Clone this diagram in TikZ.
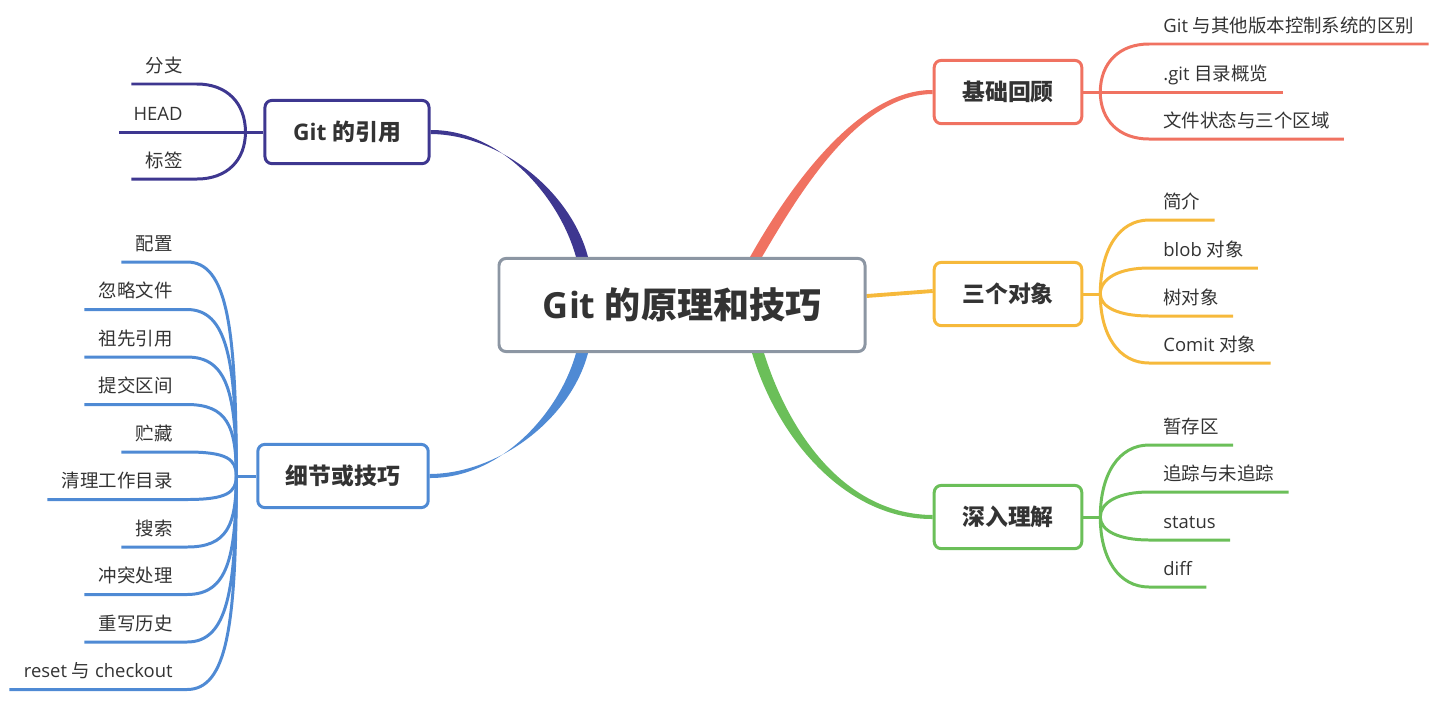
\documentclass[tikz,border=0pt]{standalone}
\usepackage{fontspec}
\setmainfont{Open Sans}
\newfontfamily\cjk{Noto Sans CJK SC}
\newcommand\zh[1]{{\cjk #1}}
\definecolor{RootGray}{HTML}{8C96A3}
\definecolor{InkGray}{HTML}{333333}
\definecolor{CoralRed}{HTML}{F07261}
\definecolor{AmberGold}{HTML}{F6B93B}
\definecolor{LeafGreen}{HTML}{6BBF59}
\definecolor{IndigoDeep}{HTML}{3E3790}
\definecolor{SkyBlue}{HTML}{4F8AD4}
\usetikzlibrary{positioning,calc,backgrounds}
\tikzset{
  rootbox/.style={draw=RootGray, line width=1.7pt, rounded corners=4pt, fill=white, text=InkGray,
    font=\fontsize{20.5}{24}\selectfont\bfseries, inner xsep=25pt, minimum height=53pt},
  topicbox/.style={draw=#1, line width=1.7pt, rounded corners=4pt, fill=white, text=InkGray,
    font=\fontsize{13}{16}\selectfont\bfseries, inner xsep=16pt, minimum height=36pt},
  leaf/.style={text=InkGray, font=\fontsize{10.5}{12}\selectfont, inner xsep=8pt, inner ysep=0pt,
    text height=8pt, text depth=6.6pt},
  leafright/.style={leaf, anchor=south west},
  leafleft/.style={leaf, anchor=south east},
  twig/.style={draw=#1, line width=1.7pt}
}

\begin{document}
\begin{tikzpicture}[x=0.02cm, y=-0.02cm]
  \useasboundingbox (0,0) rectangle (1436,704);

  % centre and main topics
  \node[rootbox] (root) at (682,305) {Git \zh{的原理和技巧}};
  \node[topicbox=CoralRed] (base) at (1008,92) {\zh{基础回顾}};
  \node[topicbox=AmberGold] (obj) at (1008,294) {\zh{三个对象}};
  \node[topicbox=LeafGreen] (deep) at (1008,517) {\zh{深入理解}};
  \node[topicbox=IndigoDeep] (refs) at (347,132) {Git \zh{的引用}};
  \node[topicbox=SkyBlue] (tips) at (343,476) {\zh{细节或技巧}};

  % tapered main branches
  \begin{scope}[on background layer]
    \fill[CoralRed] ($(root.north)+(68,0)$) .. controls ($(root.north)+(108,-71)$) and ($(base.west)+(-74,-2.5)$) .. ($(base.west)+(0,-2)$)
      -- ($(base.west)+(0,2)$) .. controls ($(base.west)+(-74,2.5)$) and ($(root.north)+(118,-65)$) .. ($(root.north)+(80,0)$) -- cycle;
    \fill[IndigoDeep] ($(root.north)+(-106,0)$) .. controls ($(root.north)+(-123,-61)$) and ($(refs.east)+(70,-2.5)$) .. ($(refs.east)+(0,-2)$)
      -- ($(refs.east)+(0,2)$) .. controls ($(refs.east)+(70,2.5)$) and ($(root.north)+(-111,-65)$) .. ($(root.north)+(-94,0)$) -- cycle;
    \fill[SkyBlue] ($(root.south)+(-106,0)$) .. controls ($(root.south)+(-123,61)$) and ($(tips.east)+(70,2.5)$) .. ($(tips.east)+(0,2)$)
      -- ($(tips.east)+(0,-2)$) .. controls ($(tips.east)+(70,-2.5)$) and ($(root.south)+(-111,65)$) .. ($(root.south)+(-94,0)$) -- cycle;
    \fill[LeafGreen] ($(root.south)+(70,0)$) .. controls ($(root.south)+(97,90)$) and ($(deep.west)+(-84,2.5)$) .. ($(deep.west)+(0,2)$)
      -- ($(deep.west)+(0,-2)$) .. controls ($(deep.west)+(-84,-2.5)$) and ($(root.south)+(109,86)$) .. ($(root.south)+(82,0)$) -- cycle;
    \draw[AmberGold, line width=2.2pt] ($(root.east)+(0,-9)$) -- ($(obj.west)+(0,-3)$);
  \end{scope}

  % forks
  \coordinate (baseF) at ($(base.east)+(17,0)$);
  \coordinate (objF) at ($(obj.east)+(17,0)$);
  \coordinate (deepF) at ($(deep.east)+(17,0)$);
  \coordinate (refsF) at ($(refs.west)+(-18,0)$);
  \coordinate (tipsF) at ($(tips.west)+(-20,0)$);
  \draw[twig=CoralRed] (base.east) -- (baseF);
  \draw[twig=AmberGold] (obj.east) -- (objF);
  \draw[twig=LeafGreen] (deep.east) -- (deepF);
  \draw[twig=IndigoDeep] (refs.west) -- (refsF);
  \draw[twig=SkyBlue] (tips.west) -- (tipsF);

  % right side leaves
  \foreach \i/\yy/\txt in {1/44/{Git \zh{与其他版本控制系统的区别}}, 2/92/{.git \zh{目录概览}}, 3/139/{\zh{文件状态与三个区域}}} {
    \node[leafright] (base\i) at (1149,\yy) {\txt};
    \draw[twig=CoralRed] (baseF) .. controls +(0,{0.6*(\yy-92)}) and +(-30,0) .. (base\i.south west) -- (base\i.south east);
  }
  \foreach \i/\yy/\txt in {1/220/{\zh{简介}}, 2/268/{blob \zh{对象}}, 3/316/{\zh{树对象}}, 4/363/{Comit \zh{对象}}} {
    \node[leafright] (obj\i) at (1149,\yy) {\txt};
    \draw[twig=AmberGold] (objF) .. controls +(0,{0.6*(\yy-294)}) and +(-30,0) .. (obj\i.south west) -- (obj\i.south east);
  }
  \foreach \i/\yy/\txt in {1/445/{\zh{暂存区}}, 2/492/{\zh{追踪与未追踪}}, 3/540/{status}, 4/587/{diff}} {
    \node[leafright] (deep\i) at (1149,\yy) {\txt};
    \draw[twig=LeafGreen] (deepF) .. controls +(0,{0.6*(\yy-517)}) and +(-30,0) .. (deep\i.south west) -- (deep\i.south east);
  }

  % left side leaves
  \foreach \i/\yy/\txt in {1/84/{\zh{分支}}, 2/132/{HEAD}, 3/179/{\zh{标签}}} {
    \node[leafleft] (refs\i) at (197,\yy) {\txt};
    \draw[twig=IndigoDeep] (refsF) .. controls +(0,{0.6*(\yy-132)}) and +(30,0) .. (refs\i.south east) -- (refs\i.south west);
  }
  \foreach \i/\txt in {0/{\zh{配置}}, 1/{\zh{忽略文件}}, 2/{\zh{祖先引用}}, 3/{\zh{提交区间}}, 4/{\zh{贮藏}},
      5/{\zh{清理工作目录}}, 6/{\zh{搜索}}, 7/{\zh{冲突处理}}, 8/{\zh{重写历史}}, 9/{reset \zh{与} checkout}} {
    \pgfmathsetmacro\yy{262+47.5*\i}
    \node[leafleft] (tips\i) at (187,\yy) {\txt};
    \draw[twig=SkyBlue] (tipsF) .. controls +(0,{0.7*(\yy-476)}) and +(40,0) .. (tips\i.south east) -- (tips\i.south west);
  }
\end{tikzpicture}
\end{document}
